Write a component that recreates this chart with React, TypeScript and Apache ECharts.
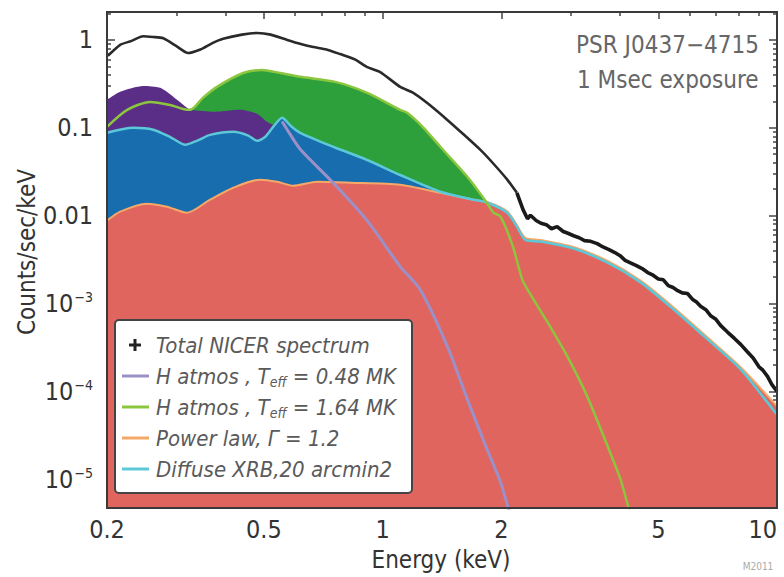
import React, { useEffect, useRef } from "react";
import * as echarts from "echarts";

// ---------- data (energy keV, counts/sec/keV) ----------
const E_MIN = 0.2;
const E_MAX = 10;
const C_MIN = 4.7e-6;
const C_MAX = 2.08;
const TAIL_START = 2.19; // energy where the noisy, thick part of the total spectrum begins

const totalSpectrum = [
  [0.201, 0.66], [0.216, 0.88], [0.23, 0.97], [0.247, 1.1], [0.262, 1.08], [0.277, 1.05],
  [0.3, 0.85], [0.321, 0.71], [0.345, 0.78], [0.37, 0.92], [0.394, 1.03], [0.44, 1.15],
  [0.481, 1.2], [0.52, 1.15], [0.573, 1.0], [0.62, 0.9], [0.667, 0.83], [0.72, 0.78],
  [0.78, 0.69], [0.85, 0.6], [0.914, 0.49], [0.986, 0.43], [1.108, 0.292], [1.196, 0.25],
  [1.3, 0.19], [1.459, 0.123], [1.6, 0.085], [1.77, 0.056], [1.9, 0.04], [2.07, 0.0257],
  [2.19, 0.0182], [2.27, 0.0117], [2.33, 0.0092], [2.37, 0.0101], [2.45, 0.0088], [2.52, 0.0082],
  [2.6, 0.0079], [2.68, 0.0071], [2.77, 0.0075], [2.87, 0.0066], [2.95, 0.0063], [3.05, 0.0059],
  [3.15, 0.0056], [3.25, 0.0052], [3.37, 0.0051], [3.5, 0.0048], [3.62, 0.0044], [3.75, 0.0041],
  [3.88, 0.0038], [4.0, 0.0035], [4.12, 0.0031], [4.25, 0.0029], [4.4, 0.0027], [4.55, 0.0025],
  [4.7, 0.00225], [4.85, 0.0021], [5.0, 0.0019], [5.15, 0.00186], [5.3, 0.0016], [5.45, 0.00152],
  [5.6, 0.0014], [5.75, 0.00132], [5.93, 0.0013], [6.1, 0.00112], [6.25, 0.00104], [6.4, 0.00093],
  [6.6, 0.00085], [6.8, 0.00072], [7.0, 0.00066], [7.2, 0.00056], [7.5, 0.00047], [7.8, 0.0004],
  [8.1, 0.00034], [8.42, 0.00028], [8.7, 0.00024], [9.0, 0.00019], [9.2, 0.000175], [9.46, 0.000148],
  [9.7, 0.00012], [10, 0.0001],
];

// H atmos, Teff = 1.64 MK (cumulative, top of green fill)
const hotComponent = [
  [0.2, 0.1026], [0.225, 0.16], [0.257, 0.197], [0.289, 0.182], [0.312, 0.164], [0.325, 0.16],
  [0.35, 0.219], [0.38, 0.292], [0.443, 0.42], [0.494, 0.456], [0.55, 0.42], [0.618, 0.38],
  [0.758, 0.333], [0.914, 0.25], [1.108, 0.16], [1.154, 0.148], [1.27, 0.1], [1.4, 0.0608],
  [1.64, 0.0277], [1.83, 0.0144], [1.91, 0.0108], [1.99, 0.00975], [2.14, 0.00445], [2.26, 0.00187],
  [2.37, 0.00127], [2.62, 6.1e-4], [2.94, 2.5e-4], [3.3, 8.8e-5], [3.72, 2.37e-5], [4.01, 1e-5],
  [4.2, 4.8e-6], [4.35, 3e-6],
];

// H atmos, Teff = 0.48 MK (top of purple fill at low energy, then the component line)
const coolFill = [
  [0.2, 0.208], [0.216, 0.257], [0.247, 0.3], [0.273, 0.285], [0.301, 0.208], [0.319, 0.169],
  [0.325, 0.16], [0.376, 0.152], [0.435, 0.16], [0.481, 0.144], [0.508, 0.118], [0.53, 0.108],
];
const coolComponent = [
  [0.556, 0.118], [0.573, 0.095], [0.618, 0.057], [0.749, 0.0237], [0.914, 0.00877],
  [1.108, 0.00263], [1.245, 0.00144], [1.459, 3.25e-4], [1.64, 8.1e-5], [1.84, 2.19e-5],
  [1.99, 9.3e-6], [2.08, 4.8e-6], [2.15, 3e-6],
];

// Diffuse XRB (top of blue fill)
const diffuseComponent = [
  [0.2, 0.0877], [0.233, 0.1], [0.262, 0.095], [0.29, 0.078], [0.316, 0.064], [0.34, 0.072],
  [0.365, 0.083], [0.418, 0.09], [0.455, 0.082], [0.481, 0.071], [0.504, 0.079], [0.53, 0.105],
  [0.556, 0.13], [0.585, 0.105], [0.618, 0.0877], [0.749, 0.0608], [0.914, 0.043], [1.108, 0.029],
  [1.4, 0.0187], [1.7, 0.0152], [1.84, 0.0141], [2.07, 0.0108], [2.19, 0.0075], [2.3, 0.0053],
  [2.51, 0.00507], [3.05, 0.00422], [3.72, 0.00292], [4.51, 0.00174], [5.47, 0.000855],
  [6.67, 0.00039], [8.09, 0.000178], [10, 0.000054],
];

// Power law (top of red fill)
const powerLawComponent = [
  [0.2, 0.00877], [0.216, 0.0111], [0.252, 0.0137], [0.284, 0.01265], [0.319, 0.0108],
  [0.365, 0.0152], [0.418, 0.0208], [0.489, 0.0257], [0.54, 0.0243], [0.593, 0.0219],
  [0.682, 0.0243], [0.828, 0.0237], [1.108, 0.0225], [1.4, 0.0182], [1.7, 0.0152], [1.84, 0.0143],
  [2.07, 0.0112], [2.19, 0.0078], [2.3, 0.0056], [2.51, 0.0053], [3.05, 0.0044], [3.72, 0.00305],
  [4.51, 0.00182], [5.47, 0.0009], [6.67, 0.00041], [8.09, 0.000188], [10, 0.000068],
];

const xMajorTicks = [0.2, 0.5, 1, 2, 5, 10];
const xTickLabels = ["0.2", "0.5", "1", "2", "5", "10"];
const xMinorTicks = [0.3, 0.4, 0.6, 0.7, 0.8, 0.9, 3, 4, 6, 7, 8, 9];
const yMajorTicks = [1e-5, 1e-4, 1e-3, 0.01, 0.1, 1];
const yTickLabels = ["10{sup|−5}", "10{sup|−4}", "10{sup|−3}", "0.01", "0.1", "1"];
const yMinorFactors = [2, 3, 4, 5, 6, 7, 8, 9];

const legendLabels = [
  "Total NICER spectrum",
  "H atmos , T{sub|eff} = 0.48 MK",
  "H atmos , T{sub|eff} = 1.64 MK",
  "Power law, Γ = 1.2",
  "Diffuse XRB,20 arcmin2",
];

// ---------- styles ----------
const FONT = "'Liberation Sans Narrow', 'DejaVu Sans Condensed', 'Arial Narrow', sans-serif";
const C_RED = "#e0655f";
const C_BLUE = "#176dae";
const C_PURPLE = "#5a2d87";
const C_GREEN = "#2da03c";
const C_CYAN = "#5cc8d8";
const C_ORANGE = "#f6a868";
const C_LAVENDER = "#9b90c8";
const C_LIGHTGREEN = "#8cc63f";
const C_BLACK = "#222222";
const legendColors = [C_BLACK, C_LAVENDER, C_LIGHTGREEN, C_ORANGE, C_CYAN];

const W = 784;
const H = 577;
const G_LEFT = 107;
const G_RIGHT = 7;
const G_TOP = 12;
const G_BOTTOM = 69;

const lg = (v: number) => Math.log10(v);

export default function App() {
  const ref = useRef<HTMLDivElement>(null);

  useEffect(() => {
    document.body.style.margin = "0";
    if (!ref.current) return;
    const chart = echarts.init(ref.current, null, { renderer: "svg" });

    const yMinor: number[] = [];
    for (let d = -6; d <= 0; d++) {
      for (const f of yMinorFactors) {
        const v = f * Math.pow(10, d);
        if (v > C_MIN && v < C_MAX) yMinor.push(lg(v));
      }
    }

    const tickStyle = { color: "#444", width: 1.5 };
    const xLabelFmt = (v: number) => {
      const i = xMajorTicks.findIndex((t) => Math.abs(lg(t) - v) < 1e-6);
      return i >= 0 ? xTickLabels[i] : "";
    };
    const yLabelFmt = (v: number) => {
      const i = yMajorTicks.findIndex((t) => Math.abs(lg(t) - v) < 1e-6);
      return i >= 0 ? yTickLabels[i] : "";
    };

    const tickAxis = (pos: string, isX: boolean, ticks: number[], len: number, labels: boolean) => ({
      type: "value",
      position: pos,
      min: isX ? lg(E_MIN) : lg(C_MIN),
      max: isX ? lg(E_MAX) : lg(C_MAX),
      axisLine: { show: false, onZero: false },
      splitLine: { show: false },
      axisTick: { show: true, inside: true, length: len, customValues: ticks, lineStyle: tickStyle },
      axisLabel: labels
        ? {
            show: true,
            customValues: (isX ? xMajorTicks : yMajorTicks).map(lg),
            formatter: isX ? xLabelFmt : yLabelFmt,
            margin: isX ? 9 : 14,
            fontSize: 25,
            fontFamily: FONT,
            color: "#333",
            alignMaxLabel: isX ? "right" : undefined,
            rich: isX
              ? undefined
              : {
                  sup: { fontSize: 14, fontFamily: FONT, color: "#333", padding: [0, 0, 13, 1] },
                },
          }
        : { show: false },
    });

    const area = (data: number[][], fill: string) => ({
      type: "line",
      data,
      xAxisIndex: 0,
      yAxisIndex: 0,
      symbol: "none",
      smooth: 0.25,
      silent: true,
      lineStyle: { width: 0, color: fill },
      areaStyle: { color: fill, opacity: 1, origin: "start" },
    });
    const line = (data: number[][], color: string, width: number, smooth = 0.25) => ({
      type: "line",
      data,
      xAxisIndex: 0,
      yAxisIndex: 0,
      symbol: "none",
      smooth,
      silent: true,
      lineStyle: { width, color },
    });

    const legendRowY = (i: number) => 345 + i * 31;
    const legendGraphics: any[] = [
      {
        type: "rect",
        z: 100,
        shape: { x: 115, y: 320, width: 297, height: 173, r: 4 },
        style: { fill: "#ffffff", stroke: "#444", lineWidth: 2 },
      },
    ];
    legendLabels.forEach((txt, i) => {
      const y = legendRowY(i);
      if (i === 0) {
        legendGraphics.push(
          { type: "line", z: 101, shape: { x1: 129, y1: y, x2: 141, y2: y }, style: { stroke: C_BLACK, lineWidth: 3 } },
          { type: "line", z: 101, shape: { x1: 135, y1: y - 6, x2: 135, y2: y + 6 }, style: { stroke: C_BLACK, lineWidth: 3 } }
        );
      } else {
        legendGraphics.push({
          type: "line",
          z: 101,
          shape: { x1: 122, y1: y, x2: 149, y2: y },
          style: { stroke: legendColors[i], lineWidth: 3 },
        });
      }
      legendGraphics.push({
        type: "text",
        z: 101,
        x: 156,
        y,
        style: {
          text: txt,
          fontSize: 22,
          fontStyle: "italic",
          fontFamily: FONT,
          fill: "#5a5a5a",
          verticalAlign: "middle",
          align: "left",
          rich: {
            sub: { fontSize: 14, fontStyle: "italic", fontFamily: FONT, fill: "#5a5a5a", padding: [12, 0, 0, 0] },
          },
        },
      });
    });

    const totalLow = totalSpectrum.filter((p) => p[0] <= TAIL_START);
    const totalTail = totalSpectrum.filter((p) => p[0] >= TAIL_START);

    const option: any = {
      animation: false,
      backgroundColor: "#ffffff",
      grid: { left: G_LEFT, right: G_RIGHT, top: G_TOP, bottom: G_BOTTOM, show: false },
      xAxis: [
        { type: "log", logBase: 10, min: E_MIN, max: E_MAX, show: false },
        tickAxis("bottom", true, xMajorTicks.map(lg), 7, true),
        tickAxis("bottom", true, xMinorTicks.map(lg), 4, false),
        tickAxis("top", true, xMajorTicks.map(lg), 7, false),
        tickAxis("top", true, xMinorTicks.map(lg), 4, false),
      ],
      yAxis: [
        { type: "log", logBase: 10, min: C_MIN, max: C_MAX, show: false },
        tickAxis("left", false, yMajorTicks.map(lg), 8, true),
        tickAxis("left", false, yMinor, 4, false),
        tickAxis("right", false, yMajorTicks.map(lg), 8, false),
        tickAxis("right", false, yMinor, 4, false),
      ],
      series: [
        area(hotComponent, C_GREEN),
        area([...coolFill, ...coolComponent], C_PURPLE),
        area(diffuseComponent, C_BLUE),
        area(powerLawComponent, C_RED),
        line(powerLawComponent, C_ORANGE, 2),
        line(diffuseComponent, C_CYAN, 2.5),
        line(coolComponent, C_LAVENDER, 3),
        line(hotComponent, C_LIGHTGREEN, 2.5),
        line(totalLow, "#2a2a2a", 2.6, 0.2),
        line(totalTail, "#1a1a1a", 3.6, 0),
      ],
      graphic: [
        {
          type: "rect",
          z: 90,
          shape: { x: G_LEFT, y: G_TOP, width: W - G_LEFT - G_RIGHT, height: H - G_TOP - G_BOTTOM },
          style: { fill: "none", stroke: "#3a3a3a", lineWidth: 2 },
        },
        ...legendGraphics,
        {
          type: "text",
          z: 100,
          x: 576,
          y: 45,
          style: { text: "PSR J0437−4715", fontSize: 24, fontFamily: FONT, fill: "#666", verticalAlign: "middle", align: "left" },
        },
        {
          type: "text",
          z: 100,
          x: 577,
          y: 80,
          style: { text: "1 Msec exposure", fontSize: 24, fontFamily: FONT, fill: "#666", verticalAlign: "middle", align: "left" },
        },
        {
          type: "text",
          z: 100,
          x: 27,
          y: 252,
          rotation: Math.PI / 2,
          style: { text: "Counts/sec/keV", fontSize: 24, fontFamily: FONT, fill: "#333", align: "center", verticalAlign: "middle" },
        },
        {
          type: "text",
          z: 100,
          x: 441,
          y: 560,
          style: { text: "Energy (keV)", fontSize: 24, fontFamily: FONT, fill: "#333", align: "center", verticalAlign: "middle" },
        },
        {
          type: "text",
          z: 100,
          x: 758,
          y: 566,
          style: { text: "M2011", fontSize: 10, fontFamily: FONT, fill: "#aaa", align: "center", verticalAlign: "middle" },
        },
      ],
    };

    chart.setOption(option);
    return () => chart.dispose();
  }, []);

  return <div ref={ref} style={{ width: W, height: H }} />;
}
